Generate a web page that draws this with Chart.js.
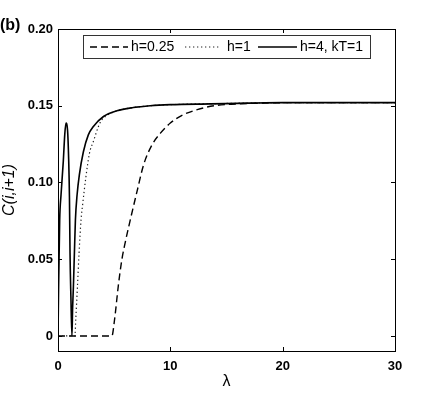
<!DOCTYPE html>
<html>
<head>
<meta charset="utf-8">
<script src="https://cdn.jsdelivr.net/npm/chart.js@4/dist/chart.umd.min.js"></script>
<style>
  html, body { margin: 0; padding: 0; background: #fff; }
  #wrap { position: relative; width: 436px; height: 396px; }
</style>
</head>
<body>
<div id="wrap"><canvas id="c" width="436" height="396"></canvas></div>
<script>
// ---- data ----
const seriesLabels = ['h=0.25', 'h=1', 'h=4, kT=1'];

const lambdaH025 = [0, 4.8, 5.03, 5.39, 5.68, 5.9, 6.4, 7.03, 7.62, 8.37, 9.1, 10, 11, 12.4, 13.9, 15.4, 18, 20, 30];
const corrH025   = [0, 0, 0.0104, 0.034, 0.0495, 0.058, 0.0745, 0.094, 0.1115, 0.1245, 0.132, 0.1387, 0.1436, 0.1475, 0.150, 0.151, 0.1517, 0.152, 0.152];

const lambdaH1 = [0, 1.5, 1.58, 1.73, 1.875, 2.05, 2.2, 2.47, 2.8, 3.15, 3.6, 3.9, 4.3, 5.24, 6.7, 8.2, 10, 15, 20, 30];
const corrH1   = [0, 0, 0.0104, 0.032, 0.054, 0.0756, 0.086, 0.1028, 0.119, 0.1267, 0.1365, 0.1408, 0.1435, 0.1467, 0.1488, 0.150, 0.1507, 0.1515, 0.152, 0.152];

const lambdaH4 = [0, 0.05, 0.15, 0.27, 0.47, 0.6, 0.71, 0.85, 0.95, 1.02, 1.07, 1.15, 1.24, 1.3, 1.37, 1.46, 1.55, 1.7, 1.9, 2.26, 2.7, 3.15, 4.05, 5.24, 6.7, 8.2, 10, 13.6, 17, 20, 30];
const corrH4   = [0, 0.03, 0.0756, 0.092, 0.1136, 0.131, 0.1387, 0.134, 0.115, 0.09, 0.054, 0.025, 0, 0.018, 0.032, 0.054, 0.0756, 0.092, 0.105, 0.120, 0.131, 0.1365, 0.143, 0.1467, 0.1488, 0.150, 0.1507, 0.1512, 0.1517, 0.152, 0.152];

const xTicks = [0, 10, 20, 30];
const yTicks = [0, 0.05, 0.10, 0.15, 0.20];
const yTickLabels = ['0', '0.05', '0.10', '0.15', '0.20'];
const xTitle = 'λ';
const yTitle = 'C(i,i+1)';
const panelLabel = '(b)';

const FONT = '"Liberation Sans", Arial, Helvetica, sans-serif';
const toPts = (xs, ys) => xs.map((x, i) => ({ x: x, y: ys[i] }));

const frameAndTicks = {
  id: 'frameAndTicks',
  afterDatasetsDraw(chart) {
    const { ctx, chartArea: a, scales } = chart;
    ctx.save();
    ctx.strokeStyle = '#000';
    ctx.lineWidth = 1;
    ctx.strokeRect(Math.round(a.left) + 0.5, Math.round(a.top) + 0.5, Math.round(a.right - a.left), Math.round(a.bottom - a.top));
    const L = 4;
    ctx.beginPath();
    xTicks.forEach(v => {
      const x = Math.round(scales.x.getPixelForValue(v)) + 0.5;
      ctx.moveTo(x, a.bottom); ctx.lineTo(x, a.bottom - L);
      ctx.moveTo(x, a.top); ctx.lineTo(x, a.top + L);
    });
    yTicks.forEach(v => {
      const y = Math.round(scales.y.getPixelForValue(v)) + 0.5;
      ctx.moveTo(a.left, y); ctx.lineTo(a.left + L, y);
      ctx.moveTo(a.right, y); ctx.lineTo(a.right - L, y);
    });
    ctx.stroke();
    ctx.restore();
  },
  afterDraw(chart) {
    const { ctx } = chart;
    ctx.save();
    // panel label
    ctx.fillStyle = '#000';
    ctx.font = 'bold 16px ' + FONT;
    ctx.textBaseline = 'middle';
    ctx.textAlign = 'left';
    ctx.fillText(panelLabel, 0, 26);
    // legend box
    const bx = 83.5, by = 35.5, bw = 287, bh = 23;
    ctx.fillStyle = '#fff';
    ctx.fillRect(bx, by, bw, bh);
    ctx.strokeStyle = '#333';
    ctx.lineWidth = 1;
    ctx.strokeRect(bx, by, bw, bh);
    const items = [
      { ds: chart.data.datasets[0], x0: 90, x1: 128, tx: 131 },
      { ds: chart.data.datasets[1], x0: 185, x1: 220, tx: 227 },
      { ds: chart.data.datasets[2], x0: 258, x1: 297, tx: 300 }
    ];
    const cy = 47;
    items.forEach(it => {
      ctx.save();
      ctx.strokeStyle = it.ds.borderColor;
      ctx.lineWidth = it.ds.borderWidth;
      ctx.setLineDash(it.ds.borderDash || []);
      ctx.beginPath();
      ctx.moveTo(it.x0, cy); ctx.lineTo(it.x1, cy);
      ctx.stroke();
      ctx.restore();
      ctx.fillStyle = '#000';
      ctx.font = '14px ' + FONT;
      ctx.textBaseline = 'middle';
      ctx.textAlign = 'left';
      ctx.fillText(it.ds.label, it.tx, cy + 0.5);
    });
    ctx.restore();
  }
};

new Chart(document.getElementById('c'), {
  type: 'line',
  data: {
    datasets: [
      { label: seriesLabels[0], data: toPts(lambdaH025, corrH025), borderColor: '#000', borderWidth: 1.4, borderDash: [7, 4], pointRadius: 0, cubicInterpolationMode: 'monotone', fill: false, order: 2 },
      { label: seriesLabels[1], data: toPts(lambdaH1, corrH1), borderColor: '#222', borderWidth: 1.2, borderDash: [1.3, 2.7], pointRadius: 0, cubicInterpolationMode: 'monotone', fill: false, order: 1 },
      { label: seriesLabels[2], data: toPts(lambdaH4, corrH4), borderColor: '#000', borderWidth: 1.6, borderDash: [], pointRadius: 0, cubicInterpolationMode: 'monotone', fill: false, order: 0 }
    ]
  },
  options: {
    responsive: false,
    animation: false,
    devicePixelRatio: 1,
    layout: { padding: { left: 0, right: 41, top: 29, bottom: 0 } },
    plugins: { legend: { display: false }, tooltip: { enabled: false } },
    scales: {
      x: {
        type: 'linear',
        min: 0, max: 30,
        grid: { display: false, drawTicks: false, tickLength: 0 },
        border: { display: false },
        afterBuildTicks: s => { s.ticks = xTicks.map(v => ({ value: v })); },
        afterFit: s => { s.height = 45; },
        ticks: { color: '#000', font: { family: FONT, size: 13, weight: 'bold' }, padding: 8, maxRotation: 0, callback: v => String(v) },
        title: { display: true, text: xTitle, color: '#000', font: { family: FONT, size: 16 }, padding: { top: 0, bottom: 5 } }
      },
      y: {
        type: 'linear',
        min: -0.0098, max: 0.20,
        grid: { display: false, drawTicks: false, tickLength: 0 },
        border: { display: false },
        afterBuildTicks: s => { s.ticks = yTicks.map(v => ({ value: v })); },
        afterFit: s => { s.width = 58; },
        ticks: { color: '#000', font: { family: FONT, size: 13, weight: 'bold' }, padding: 5,
          callback: (v) => { const i = yTicks.findIndex(t => Math.abs(t - v) < 1e-9); return i >= 0 ? yTickLabels[i] : ''; } },
        title: { display: true, text: yTitle, color: '#000', font: { family: FONT, size: 16, style: 'italic' }, padding: { top: 0, bottom: 0 } }
      }
    }
  },
  plugins: [frameAndTicks]
});
</script>
</body>
</html>
